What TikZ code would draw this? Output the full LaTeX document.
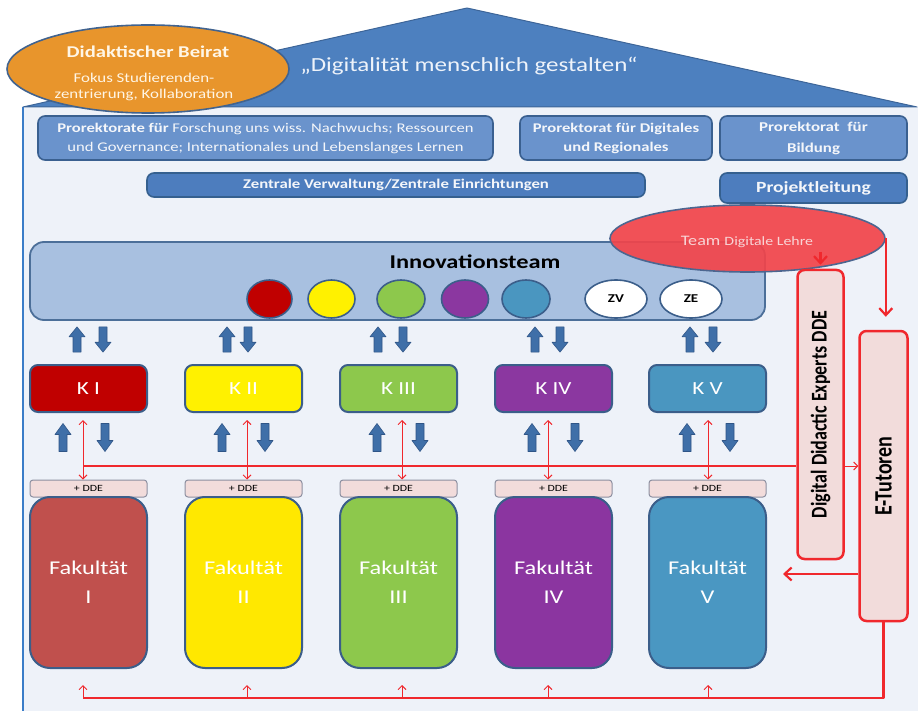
\documentclass[tikz,border=0pt]{standalone}
\usepackage{fontspec}
\setmainfont{Carlito}[FakeStretch=1.25]
\newfontfamily\rotfont{Carlito}
\usetikzlibrary{arrows.meta,shapes.geometric,calc}
\newcommand\myfs[2]{\fontsize{#1}{#2}\selectfont}
\definecolor{roof}{HTML}{4D80BF}
\definecolor{roofline}{HTML}{3D6598}
\definecolor{rooftext}{HTML}{EEF3FA}
\definecolor{bodyfill}{HTML}{EEF2F9}
\definecolor{bodyline}{HTML}{3B7DC8}
\definecolor{hdrfill}{HTML}{6A93CC}
\definecolor{hdrline}{HTML}{3A6090}
\definecolor{darkfill}{HTML}{4D7DBE}
\definecolor{darkline}{HTML}{35608F}
\definecolor{boxtext}{HTML}{F4F6FA}
\definecolor{innovfill}{HTML}{A8C0E0}
\definecolor{innovline}{HTML}{4C6F99}
\definecolor{orange}{HTML}{E8952C}
\definecolor{beiratline}{HTML}{41638F}
\definecolor{beirattext}{HTML}{FFF6E6}
\definecolor{teamred}{HTML}{F2444A}
\definecolor{teamline}{HTML}{4C6690}
\definecolor{teamtext}{HTML}{F8D4D6}
\definecolor{cI}{HTML}{C00000}
\definecolor{cII}{HTML}{FFF100}
\definecolor{cIII}{HTML}{8DC84C}
\definecolor{cIV}{HTML}{8B37A0}
\definecolor{cV}{HTML}{4A96C0}
\definecolor{fI}{HTML}{C0504D}
\definecolor{fII}{HTML}{FFE800}
\definecolor{fIII}{HTML}{8DC84C}
\definecolor{fIV}{HTML}{8B35A0}
\definecolor{fV}{HTML}{4A97C2}
\definecolor{kline}{HTML}{3B5E8A}
\definecolor{ddefill}{HTML}{F2DCDB}
\definecolor{ddeline}{HTML}{8C8FA0}
\definecolor{redc}{HTML}{F0282D}
\definecolor{arrfill}{HTML}{3F6FA8}
\definecolor{arrline}{HTML}{2F5587}
\tikzset{
 uparrow/.pic={\filldraw[fill=arrfill, draw=arrline, line width=0.6pt] (-4,14) -- (-4,-3) -- (-8,-3) -- (0,-14) -- (8,-3) -- (4,-3) -- (4,14) -- cycle;},
 downarrow/.pic={\filldraw[fill=arrfill, draw=arrline, line width=0.6pt] (-4,-14) -- (-4,3) -- (-8,3) -- (0,14) -- (8,3) -- (4,3) -- (4,-14) -- cycle;}
}
\begin{document}
\begin{tikzpicture}[x=1pt,y=-1pt,line join=round,
 hdr/.style={draw=hdrline, fill=hdrfill, line width=1.6pt, rounded corners=7pt, inner sep=0pt, text=boxtext, align=center},
 hdrdark/.style={hdr, fill=darkfill, draw=darkline},
 kbox/.style={draw=kline, line width=2pt, rounded corners=8pt, minimum width=117pt, minimum height=47pt, inner sep=0pt, text=white, font=\myfs{18.5}{20}},
 fbox/.style={draw=kline, line width=2pt, rounded corners=20pt, minimum width=117pt, minimum height=171pt, inner sep=0pt, text=white, align=center, font=\myfs{19.5}{29}},
 ddelab/.style={draw=ddeline, fill=ddefill, line width=1pt, rounded corners=3pt, minimum width=117pt, minimum height=17pt, inner sep=0pt, font=\myfs{9.5}{10}},
 dot/.style={ellipse, draw=kline, line width=1.6pt, minimum width=45pt, minimum height=38pt, inner sep=0pt},
 redbox/.style={draw=redc, fill=ddefill, line width=2.5pt, rounded corners=7pt, inner sep=0pt},
 redline/.style={draw=redc, line width=2.2pt},
 thinred/.style={draw=redc, line width=0.9pt},
 thinhead/.style={-{Straight Barb[length=4pt,width=8pt]}},
 bighead/.style={-{Straight Barb[length=7pt,width=13pt]}}
]
\useasboundingbox (0,0) rectangle (918,711);
% body and roof
\fill[bodyfill] (23,107) rectangle (918,711);
\draw[bodyline, line width=2.5pt] (23,711) -- (23,107);
\filldraw[fill=roof, draw=roofline, line width=1pt] (23,107) -- (467,8) -- (917,107) -- cycle;
\node[font=\myfs{20}{24}, text=rooftext] (motto) at (469,66) {„Digitalität menschlich gestalten“};
% Beirat
\node[ellipse, fill=orange, draw=beiratline, line width=1.6pt, minimum width=282pt, minimum height=88pt, inner sep=0pt] (beirat) at (148,69) {};
\node[font=\bfseries\myfs{16.5}{18}, text=beirattext] (beirat1) at (148,52) {Didaktischer Beirat};
\node[font=\myfs{13.5}{16}, text=beirattext] (beirat2) at (144,78) {Fokus Studierenden-};
\node[font=\myfs{13.5}{16}, text=beirattext] (beirat3) at (144,95) {zentrierung, Kollaboration};
% header boxes
\node[hdr, minimum width=455pt, minimum height=44pt, font=\myfs{13.3}{19}] (pr1) at (265.5,138)
 {\textbf{Prorektorate für} Forschung uns wiss. Nachwuchs; Ressourcen\\und Governance; Internationales und Lebenslanges Lernen};
\node[hdr, minimum width=192pt, minimum height=44pt, font=\bfseries\myfs{13.3}{19}] (pr2) at (616,138)
 {Prorektorat für Digitales\\und Regionales};
\node[hdr, minimum width=187pt, minimum height=44pt, font=\bfseries\myfs{13.5}{21}] (pr3) at (813.5,138)
 {Prorektorat\ \ für\\Bildung};
\node[hdrdark, minimum width=498pt, minimum height=24pt, font=\bfseries\myfs{13.4}{14}] (zv) at (396,185)
 {Zentrale Verwaltung/Zentrale Einrichtungen};
\node[hdrdark, minimum width=187pt, minimum height=30pt, font=\bfseries\myfs{15.6}{17}] (pl) at (813.5,188)
 {Projektleitung};
% Innovationsteam
\node[draw=innovline, fill=innovfill, line width=1.8pt, rounded corners=14pt, minimum width=735pt, minimum height=78pt, inner sep=0pt] (innov) at (397.5,281) {};
\node[font=\bfseries\myfs{19.5}{20}, text=black] (innovtitle) at (475,262) {Innovationsteam};
\node[dot, fill=cI] (c1) at (269.5,299) {};
\node[dot, fill=cII, minimum width=47pt] (c2) at (331.5,299) {};
\node[dot, fill=cIII, minimum width=48pt] (c3) at (401,299) {};
\node[dot, fill=cIV, minimum width=47pt] (c4) at (465,299) {};
\node[dot, fill=cV, minimum width=48pt] (c5) at (526,299) {};
\node[dot, fill=white, minimum width=62pt, font=\bfseries\myfs{12}{12}] (czv) at (616,299) {ZV};
\node[dot, fill=white, minimum width=62pt, font=\bfseries\myfs{12}{12}] (cze) at (691,299) {ZE};
% Team Digitale Lehre
\node[ellipse, fill=teamred, fill opacity=0.92, draw=teamline, line width=1.6pt, minimum width=275pt, minimum height=67pt, inner sep=0pt] (team) at (747.5,238.5) {};
\node[text=teamtext] (teamtext) at (747,242) {\myfs{14.5}{16}Team \myfs{12.7}{16}Digitale Lehre};
% K boxes, DDE labels, faculties
\foreach \n/\x/\kc/\fc/\kl/\fl in {1/88.5/cI/fI/K I/I, 2/243.5/cII/fII/K II/II, 3/398.5/cIII/fIII/K III/III, 4/553.5/cIV/fIV/K IV/IV, 5/707.5/cV/fV/K V/V}{
 \node[kbox, fill=\kc] (k\n) at (\x,388.5) {\kl};
 \node[ddelab] (dde\n) at (\x,488.5) {+ DDE};
 \node[fbox, fill=\fc] (f\n) at (\x,582.5) {Fakultät\\\fl};
}
% DDE and E-Tutoren boxes
\node[redbox, minimum width=46pt, minimum height=289pt] (ddebox) at (820.5,414.5) {};
\node[rotate=90, yscale=1.25, font=\rotfont\bfseries\myfs{18}{20}, text=black] (ddetext) at (ddebox.center) {Digital Didactic Experts DDE};
\node[redbox, minimum width=48pt, minimum height=290pt] (etut) at (883.5,476) {};
\node[rotate=90, yscale=1.25, font=\rotfont\bfseries\myfs{20}{20}, text=black] (etuttext) at (etut.center) {E-Tutoren};
% block arrows
\foreach \u/\d in {77/103, 227/248, 378/403, 535/560, 690/713}{
 \pic[yscale=0.9] at (\u,339.5) {uparrow};
 \pic[yscale=0.9] at (\d,339.5) {downarrow};
}
\foreach \u/\d in {63/105, 222/265, 377/420, 532/575, 687/730}{
 \pic at (\u,437.5) {uparrow};
 \pic at (\d,437.5) {downarrow};
}
% red connectors
\coordinate (hstart) at (83,466);
\coordinate (bstart) at (83,698);
\draw[redline] (hstart) -- (hstart -| ddebox.west);
\foreach \n/\o in {1/-5.5, 2/3.5, 3/3.5, 4/-5.5, 5/0.5}{
 \draw[thinred, {Straight Barb[length=4pt,width=8pt]}-{Straight Barb[length=4pt,width=8pt]}, shorten <=7pt]
  ($(k\n.south)+(\o,0)$) -- ($(dde\n.north)+(\o,0)$);
 \draw[thinred, thinhead] ($(f\n.south |- bstart)+(\o,0)$) -- ++(0,-13);
}
\draw[thinred, thinhead] (hstart -| ddebox.east) -- (hstart -| etut.west);
\draw[redline] (etut.south) |- (bstart);
\coordinate (tdstart) at (820.5,252);
\draw[redline, bighead, shorten >=4pt] (tdstart) -- (ddebox.north);
\draw[redline, bighead, shorten >=13pt] (team.east) -- (team.east |- etut.north);
\coordinate (efend) at (783,574);
\draw[redline, bighead] (etut.west |- efend) -- (efend);
\end{tikzpicture}
\end{document}
